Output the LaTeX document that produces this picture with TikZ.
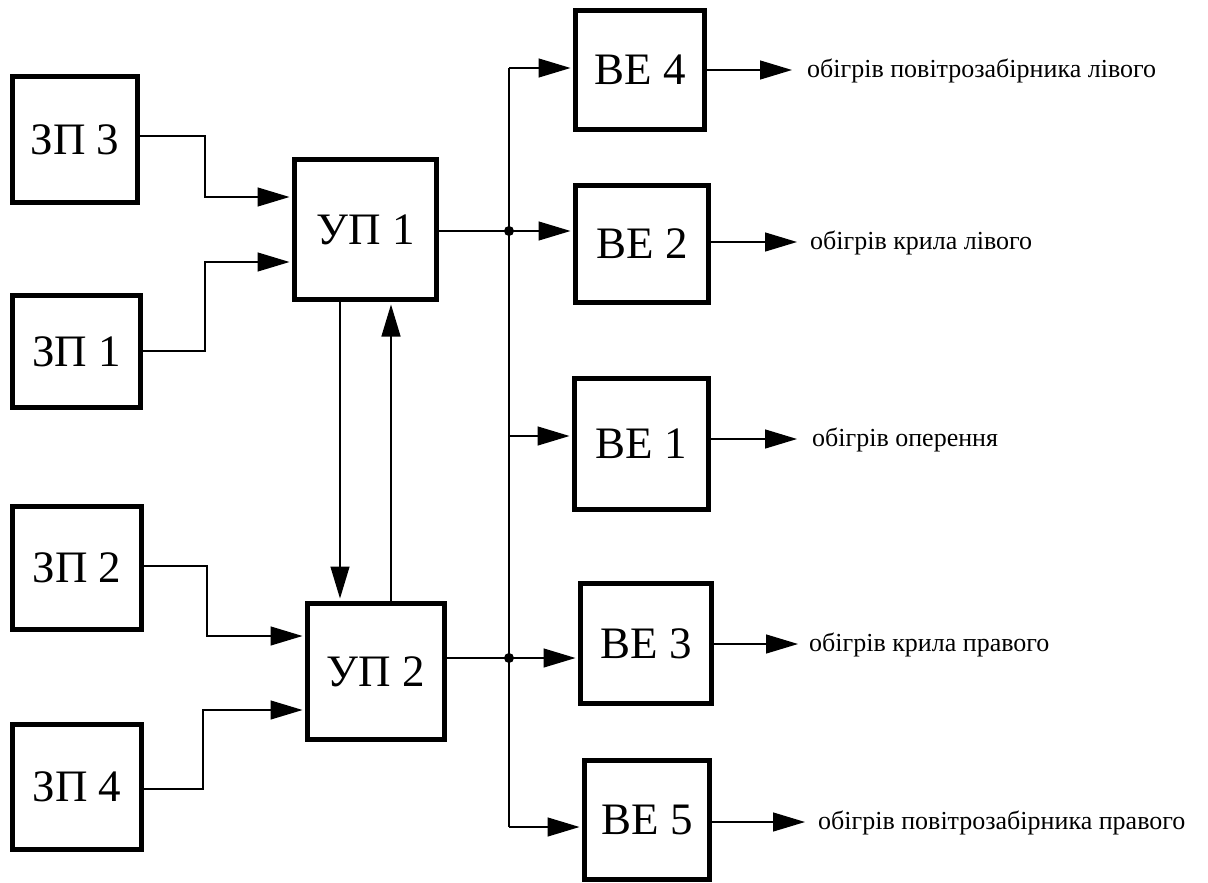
\documentclass[tikz,border=0pt]{standalone}
\usepackage{fontspec}
\setmainfont{Liberation Serif}
\usetikzlibrary{arrows.meta,calc}
\begin{document}
\begin{tikzpicture}[x=1pt,y=-1pt,
  blk/.style={draw,line width=5pt,rectangle,inner sep=0pt,font=\fontsize{45}{48}\selectfont},
  wire/.style={line width=1.3pt},
  arr/.style={wire,-{Triangle[length=32pt,width=19pt]}},
  arrbox/.style={arr,shorten >=2.5pt},
  outlbl/.style={anchor=west,inner sep=0pt,font=\fontsize{26}{28}\selectfont},
  junction/.style={circle,fill,inner sep=0pt,minimum size=10pt}]
\useasboundingbox (0,0) rectangle (1208,883);

% sensors
\node[blk,minimum width=125pt,minimum height=126pt] (zp3) at (75,139.5) {ЗП 3};
\node[blk,minimum width=128pt,minimum height=112pt] (zp1) at (76.5,351.5) {ЗП 1};
\node[blk,minimum width=129pt,minimum height=123pt] (zp2) at (77,568) {ЗП 2};
\node[blk,minimum width=129pt,minimum height=125pt] (zp4) at (77,787) {ЗП 4};

% control units
\node[blk,minimum width=142pt,minimum height=140pt] (up1) at (365.5,229.5) {УП 1};
\node[blk,minimum width=137pt,minimum height=136pt] (up2) at (376,671.5) {УП 2};

% actuators
\node[blk,minimum width=129pt,minimum height=119pt] (be4) at (640,70) {ВЕ 4};
\node[blk,minimum width=133pt,minimum height=117pt] (be2) at (642,244) {ВЕ 2};
\node[blk,minimum width=134pt,minimum height=131pt] (be1) at (641.5,444) {ВЕ 1};
\node[blk,minimum width=131pt,minimum height=120pt] (be3) at (646,643.5) {ВЕ 3};
\node[blk,minimum width=125pt,minimum height=119pt] (be5) at (647,820) {ВЕ 5};

% sensor inputs
\draw[arrbox] (zp3.east |- 0,136) -| (205,197) -- (up1.west |- 0,197);
\draw[arrbox] (zp1.east |- 0,351) -| (205,262) -- (up1.west |- 0,262);
\draw[arrbox] (zp2.east |- 0,566) -| (207,636) -- (up2.west |- 0,636);
\draw[arrbox] (zp4.east |- 0,789) -| (203,710) -- (up2.west |- 0,710);

% links between control units
\draw[arrbox] (up1.south -| 340,0) -- (up2.north -| 340,0);
\draw[arrbox] (up2.north -| 391,0) -- (up1.south -| 391,0);

% distribution bus
\coordinate (t4) at (509,68);
\coordinate (j1) at (509,231);
\coordinate (t1) at (509,436);
\coordinate (j2) at (509,658);
\coordinate (t5) at (509,827);
\draw[wire] (t4) -- (t5);
\draw[wire] (up1.east |- j1) -- (j1);
\draw[wire] (up2.east |- j2) -- (j2);
\node[junction] (d1) at (j1) {};
\node[junction] (d2) at (j2) {};
\draw[arrbox] (t4) -- (be4.west |- t4);
\draw[arrbox] (j1) -- (be2.west |- j1);
\draw[arrbox] (t1) -- (be1.west |- t1);
\draw[arrbox] (j2) -- (be3.west |- j2);
\draw[arrbox] (t5) -- (be5.west |- t5);

% outputs
\coordinate (o4) at (792,70);
\coordinate (o2) at (797,242);
\coordinate (o1) at (797,439);
\coordinate (o3) at (798,644);
\coordinate (o5) at (805,822);
\draw[arr] (be4.east |- o4) -- (o4);
\draw[arr] (be2.east |- o2) -- (o2);
\draw[arr] (be1.east |- o1) -- (o1);
\draw[arr] (be3.east |- o3) -- (o3);
\draw[arr] (be5.east |- o5) -- (o5);
\node[outlbl] (l4) at (807,71) {обігрів повітрозабірника лівого};
\node[outlbl] (l2) at (810,243) {обігрів крила лівого};
\node[outlbl] (l1) at (812,440) {обігрів оперення};
\node[outlbl] (l3) at (809,645) {обігрів крила правого};
\node[outlbl] (l5) at (818,823) {обігрів повітрозабірника правого};
\end{tikzpicture}
\end{document}
